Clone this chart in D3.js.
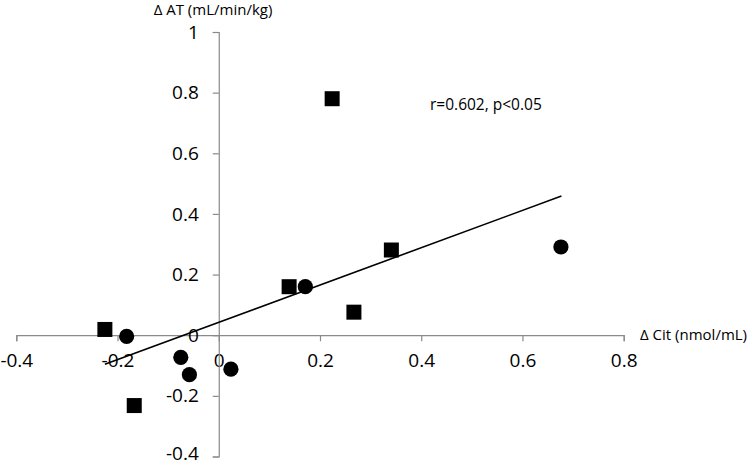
<!DOCTYPE html>
<html>
<head>
<meta charset="utf-8">
<script src="https://cdn.jsdelivr.net/npm/d3@7"></script>
<style>
html,body{margin:0;padding:0;background:#fff;}
svg text{font-family:"Open Sans",sans-serif;fill:#000;}
</style>
</head>
<body>
<svg id="chart" width="756" height="465"></svg>
<script>
// Data
const squareX = [0.224, -0.225, 0.139, 0.267, -0.167, 0.341];
const squareY = [0.780, 0.019, 0.160, 0.076, -0.232, 0.281];
const circleX = [-0.182, -0.075, -0.058, 0.024, 0.171, 0.676];
const circleY = [-0.004, -0.073, -0.130, -0.112, 0.160, 0.291];
const fitX = [-0.225, 0.677];
const fitY = [-0.096, 0.459];
const xTicks = [-0.4, -0.2, 0, 0.2, 0.4, 0.6, 0.8];
const yTicks = [-0.4, -0.2, 0, 0.2, 0.4, 0.6, 0.8, 1];
const xTitle = "Δ Cit (nmol/mL)";
const yTitle = "Δ AT (mL/min/kg)";
const note = "r=0.602, p<0.05";

const svg = d3.select("#chart");
const x = d3.scaleLinear().domain([-0.4, 0.8]).range([16.3, 623.7]);
const y = d3.scaleLinear().domain([-0.4, 1]).range([456.5, 32]);
const fmt = d => d === 0 ? "0" : (Number.isInteger(d) ? String(d) : d.toFixed(1));

// X axis (crosses at y=0)
const xAxis = svg.append("g").attr("transform", `translate(0,${y(0)})`)
  .call(d3.axisBottom(x).tickValues(xTicks).tickSize(6).tickSizeOuter(6).tickPadding(13).tickFormat(fmt));
// Y axis (crosses at x=0)
const yAxis = svg.append("g").attr("transform", `translate(${x(0)},0)`)
  .call(d3.axisLeft(y).tickValues(yTicks).tickSize(6).tickSizeOuter(6).tickPadding(14).tickFormat(fmt));
[xAxis, yAxis].forEach(g => {
  g.selectAll("path,line").attr("stroke", "#8a8a8a").attr("stroke-width", 1.2);
  g.selectAll("text").style("font-size", "19px").attr("fill", "#000");
});
xAxis.selectAll("text").attr("dy", "0.68em");
// keep the lowest y label inside the frame
yAxis.selectAll(".tick").filter(d => d === -0.4).select("text").attr("dy", "0.15em");

// Titles
svg.append("text").attr("x", 213).attr("y", 10).attr("dy", "0.35em")
  .attr("text-anchor", "middle").style("font-size", "15px").text(yTitle);
svg.append("text").attr("x", 640).attr("y", y(0)).attr("dy", "0.35em")
  .attr("text-anchor", "start").style("font-size", "15px").text(xTitle);
svg.append("text").attr("x", 430).attr("y", 105).attr("dy", "0.35em")
  .attr("text-anchor", "start").style("font-size", "15.5px").text(note);

// Fit line
svg.append("line")
  .attr("x1", x(fitX[0])).attr("y1", y(fitY[0]))
  .attr("x2", x(fitX[1])).attr("y2", y(fitY[1]))
  .attr("stroke", "#000").attr("stroke-width", 1.6);

// Squares
const sq = 15;
svg.append("g").selectAll("rect").data(squareX.map((v, i) => [v, squareY[i]]))
  .join("rect")
  .attr("x", d => x(d[0]) - sq / 2).attr("y", d => y(d[1]) - sq / 2)
  .attr("width", sq).attr("height", sq).attr("fill", "#000");

// Circles
svg.append("g").selectAll("circle").data(circleX.map((v, i) => [v, circleY[i]]))
  .join("circle")
  .attr("cx", d => x(d[0])).attr("cy", d => y(d[1]))
  .attr("r", 7.6).attr("fill", "#000");
</script>
</body>
</html>
